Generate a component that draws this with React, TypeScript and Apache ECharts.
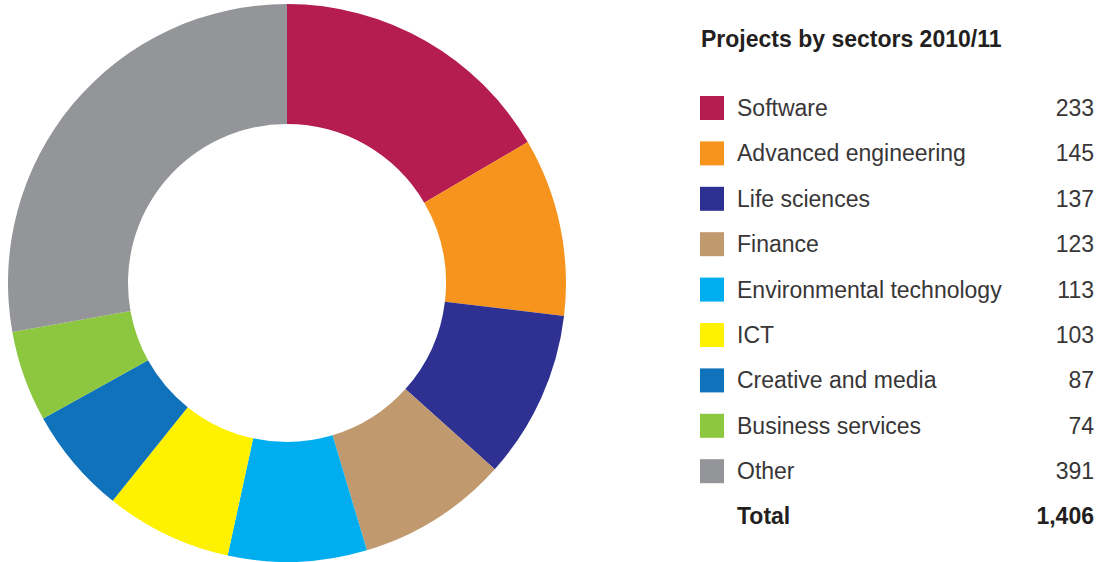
import React, { useEffect, useRef } from "react";
import * as echarts from "echarts";

const title = "Projects by sectors 2010/11";
const sectors = [
  "Software",
  "Advanced engineering",
  "Life sciences",
  "Finance",
  "Environmental technology",
  "ICT",
  "Creative and media",
  "Business services",
  "Other",
];
const projects = [233, 145, 137, 123, 113, 103, 87, 74, 391];
const colors = [
  "#B51C4F",
  "#F7941E",
  "#2E3192",
  "#C1996E",
  "#00AEEF",
  "#FFF200",
  "#0F72BA",
  "#8DC63F",
  "#939598",
];
const totalLabel = "Total";
const totalValue = "1,406";

export default function App() {
  const ref = useRef<HTMLDivElement>(null);
  useEffect(() => {
    if (!ref.current) return;
    const chart = echarts.init(ref.current, undefined, { renderer: "svg" });
    const valueOf: Record<string, number> = {};
    sectors.forEach((s, i) => (valueOf[s] = projects[i]));
    const font = "'Liberation Sans', Arial, Helvetica, sans-serif";
    chart.setOption({
      animation: false,
      color: colors,
      legend: {
        orient: "vertical",
        left: 700,
        top: 96,
        padding: 0,
        itemWidth: 24,
        itemHeight: 24,
        itemGap: 21.4,
        icon: "rect",
        selectedMode: false,
        data: sectors,
        formatter: (name: string) =>
          `{n|${name}}{v|${valueOf[name].toLocaleString("en-US")}}`,
        textStyle: {
          rich: {
            n: {
              width: 280,
              padding: [0, 0, 0, 8],
              fontSize: 23,
              lineHeight: 24,
              color: "#383637",
              fontFamily: font,
            },
            v: {
              width: 77,
              align: "right",
              fontSize: 23,
              lineHeight: 24,
              color: "#383637",
              fontFamily: font,
            },
          },
        },
      },
      graphic: [
        {
          type: "text",
          x: 701,
          y: 39,
          style: {
            text: title,
            font: `bold 23px ${font}`,
            fill: "#231F20",
            verticalAlign: "middle",
          },
        },
        {
          type: "text",
          x: 737,
          y: 516,
          style: {
            text: totalLabel,
            font: `bold 23px ${font}`,
            fill: "#231F20",
            verticalAlign: "middle",
          },
        },
        {
          type: "text",
          x: 1094,
          y: 516,
          style: {
            text: totalValue,
            font: `bold 23px ${font}`,
            fill: "#231F20",
            align: "right",
            verticalAlign: "middle",
          },
        },
      ],
      series: [
        {
          type: "pie",
          center: [287, 283],
          radius: [159, 279],
          startAngle: 90,
          clockwise: true,
          label: { show: false },
          labelLine: { show: false },
          emphasis: { disabled: true },
          itemStyle: { borderWidth: 0 },
          data: sectors.map((s, i) => ({ name: s, value: projects[i] })),
        },
      ],
    });
    return () => chart.dispose();
  }, []);
  return <div ref={ref} style={{ width: 1103, height: 562, position: "absolute", left: 0, top: 0 }} />;
}
